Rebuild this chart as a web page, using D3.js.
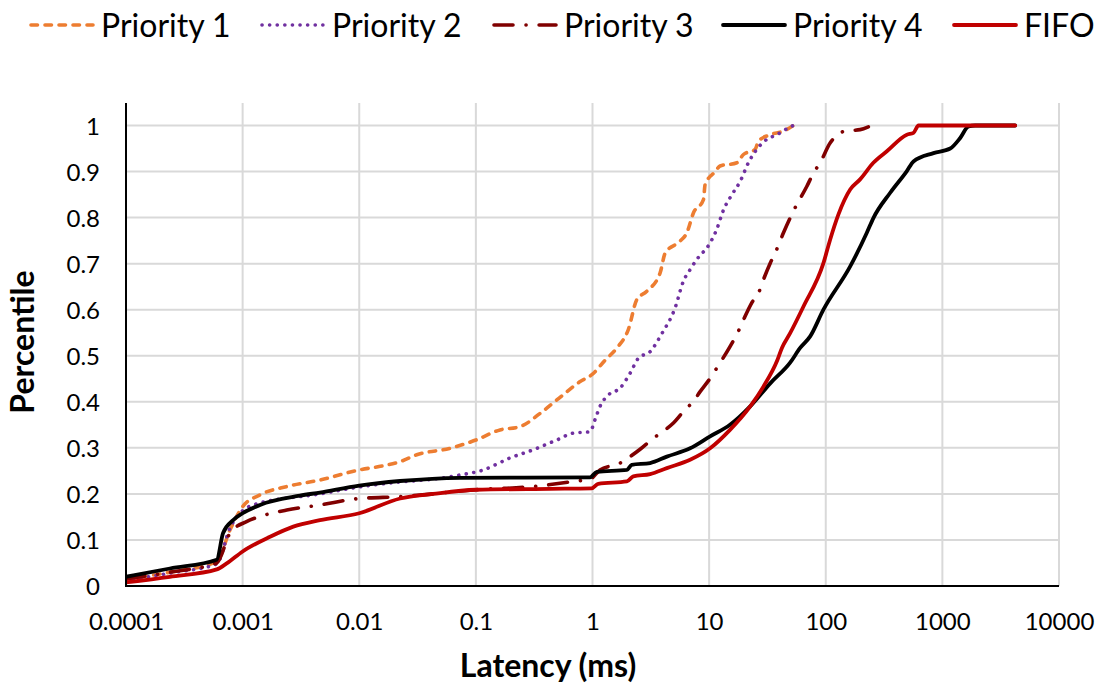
<!DOCTYPE html>
<html>
<head>
<meta charset="utf-8">
<script src="https://cdn.jsdelivr.net/npm/d3@7"></script>
<style>
  html, body { margin: 0; padding: 0; background: #fff; }
  svg { display: block; }
  text { font-family: Lato, "Open Sans", sans-serif; fill: #000; }
</style>
</head>
<body>
<svg id="chart" width="1098" height="686"></svg>
<script>
// ---------------- DATA ----------------
const seriesNames = ["Priority 1", "Priority 2", "Priority 3", "Priority 4", "FIFO"];

const p1Latency = [0.0001, 0.000238, 0.0006, 0.00078, 0.001, 0.00141, 0.00239, 0.0046, 0.01, 0.0161, 0.0224, 0.0311, 0.0601, 0.1, 0.161, 0.239, 0.356, 0.494, 0.784, 1.0, 1.28, 1.62, 2.03, 2.40, 2.92, 3.80, 4.20, 5.64, 6.44, 7.33, 8.94, 9.24, 11.3, 12.4, 17.3, 19.7, 24.8, 26.5, 33.4, 43.4, 52.8];
const p1Pct     = [0.015, 0.03, 0.053, 0.122, 0.172, 0.198, 0.216, 0.23, 0.252, 0.261, 0.27, 0.285, 0.299, 0.317, 0.339, 0.346, 0.375, 0.404, 0.444, 0.46, 0.49, 0.517, 0.557, 0.622, 0.64, 0.68, 0.723, 0.749, 0.767, 0.81, 0.839, 0.872, 0.9, 0.912, 0.919, 0.937, 0.948, 0.966, 0.98, 0.988, 1.0];

const p2Latency = [0.0001, 0.000238, 0.0006, 0.00078, 0.00123, 0.0046, 0.01, 0.0224, 0.043, 0.073, 0.116, 0.196, 0.311, 0.494, 0.685, 0.953, 1.05, 1.16, 1.37, 1.73, 2.10, 2.48, 3.12, 3.93, 5.11, 6.02, 6.87, 7.84, 10.2, 11.6, 13.3, 15.7, 18.5, 21.7, 25.6, 31.3, 38.1, 47.9, 52.8];
const p2Pct     = [0.012, 0.028, 0.048, 0.126, 0.176, 0.2, 0.215, 0.226, 0.232, 0.241, 0.252, 0.278, 0.296, 0.317, 0.332, 0.335, 0.361, 0.39, 0.415, 0.43, 0.462, 0.495, 0.509, 0.548, 0.604, 0.662, 0.687, 0.709, 0.745, 0.774, 0.817, 0.85, 0.879, 0.919, 0.948, 0.97, 0.98, 0.995, 1.0];

const p3Latency = [0.0001, 0.000238, 0.0006, 0.00078, 0.00108, 0.00141, 0.00239, 0.0046, 0.01, 0.0224, 0.1, 0.311, 0.733, 0.953, 1.16, 1.73, 2.10, 2.56, 3.33, 4.20, 4.94, 6.22, 7.33, 8.37, 10.2, 11.6, 15.1, 17.8, 19.7, 23.2, 26.5, 29.2, 33.4, 36.8, 43.4, 52.8, 68.9, 78.5, 89.5, 109, 120, 146.6, 197, 232];
const p3Pct     = [0.015, 0.03, 0.05, 0.115, 0.14, 0.151, 0.165, 0.176, 0.19, 0.194, 0.209, 0.216, 0.228, 0.232, 0.252, 0.267, 0.281, 0.297, 0.321, 0.339, 0.354, 0.383, 0.401, 0.422, 0.451, 0.473, 0.52, 0.553, 0.578, 0.615, 0.636, 0.665, 0.701, 0.723, 0.767, 0.814, 0.868, 0.897, 0.919, 0.962, 0.975, 0.988, 0.991, 0.997];

const p4Latency = [0.0001, 0.000238, 0.0006, 0.00068, 0.00083, 0.001, 0.00141, 0.0031, 0.0046, 0.01, 0.0224, 0.073, 0.953, 1.09, 1.97, 2.17, 3.12, 4.34, 6.87, 10.2, 15.1, 22.5, 33.4, 49.5, 60.3, 73.5, 95.5, 162, 225, 256, 357, 496, 565, 839, 1167, 1422, 1675, 1910, 4207];
const p4Pct     = [0.02, 0.038, 0.057, 0.115, 0.143, 0.158, 0.176, 0.196, 0.203, 0.218, 0.228, 0.235, 0.236, 0.248, 0.252, 0.263, 0.267, 0.281, 0.299, 0.325, 0.35, 0.39, 0.44, 0.485, 0.517, 0.542, 0.6, 0.694, 0.767, 0.799, 0.854, 0.901, 0.922, 0.94, 0.95, 0.973, 0.998, 1.0, 1.0];

const fifoLatency = [0.0001, 0.000238, 0.0006, 0.00073, 0.001, 0.00172, 0.00272, 0.0046, 0.01, 0.0224, 0.043, 0.1, 0.433, 0.98, 1.12, 1.97, 2.24, 3.12, 4.34, 6.87, 10.2, 15.1, 22.5, 29.2, 38.1, 42.1, 49.5, 64.4, 95.5, 109, 128.5, 162, 197, 256, 334, 496, 565, 624, 4207];
const fifoPct     = [0.008, 0.02, 0.036, 0.049, 0.075, 0.107, 0.129, 0.143, 0.158, 0.19, 0.2, 0.209, 0.211, 0.212, 0.222, 0.227, 0.238, 0.243, 0.256, 0.274, 0.299, 0.339, 0.39, 0.433, 0.488, 0.517, 0.549, 0.607, 0.701, 0.752, 0.807, 0.861, 0.883, 0.919, 0.944, 0.98, 0.984, 1.0, 1.0];

const xTickValues = [0.0001, 0.001, 0.01, 0.1, 1, 10, 100, 1000, 10000];
const xTickLabels = ["0.0001", "0.001", "0.01", "0.1", "1", "10", "100", "1000", "10000"];
const yTickValues = [0, 0.1, 0.2, 0.3, 0.4, 0.5, 0.6, 0.7, 0.8, 0.9, 1];
const yTickLabels = ["0", "0.1", "0.2", "0.3", "0.4", "0.5", "0.6", "0.7", "0.8", "0.9", "1"];
const xTitle = "Latency (ms)";
const yTitle = "Percentile";

// ---------------- STYLES ----------------
const styles = [
  { color: "#ED7D31", dash: "6.5,7.5", width: 3.6 },
  { color: "#7030A0", dash: "0.1,7.5", width: 3.6 },
  { color: "#800000", dash: "19,13,0.1,13", width: 3.6 },
  { color: "#000000", dash: null, width: 3.8 },
  { color: "#C00000", dash: null, width: 3.8 }
];
const latencies = [p1Latency, p2Latency, p3Latency, p4Latency, fifoLatency];
const pcts = [p1Pct, p2Pct, p3Pct, p4Pct, fifoPct];

// ---------------- LAYOUT ----------------
const plotL = 126, plotR = 1059, plotT = 103, plotB = 586;
const svg = d3.select("#chart");

const x = d3.scaleLog().domain([0.0001, 10000]).range([plotL, plotR]);
const y = d3.scaleLinear().domain([0, 1]).range([plotB, 125.5]);

// gridlines
const grid = svg.append("g");
grid.selectAll("line.h").data(yTickValues.filter(v => v > 0)).enter().append("line")
  .attr("x1", plotL).attr("x2", plotR)
  .attr("y1", d => y(d)).attr("y2", d => y(d))
  .attr("stroke", "#d9d9d9").attr("stroke-width", 2);
grid.selectAll("line.v").data(xTickValues.filter(v => v > 0.0001)).enter().append("line")
  .attr("x1", d => x(d)).attr("x2", d => x(d))
  .attr("y1", plotT).attr("y2", plotB)
  .attr("stroke", "#d9d9d9").attr("stroke-width", 2);

// axes labels via d3 axes
const xAxis = d3.axisBottom(x).tickValues(xTickValues)
  .tickFormat((d, i) => xTickLabels[i]).tickSize(0).tickPadding(0);
const gx = svg.append("g").attr("transform", `translate(0,${plotB})`).call(xAxis);
gx.select(".domain").remove();
gx.selectAll("text").attr("font-family", "Lato").attr("font-size", 24)
  .attr("fill", "#000").attr("y", 44).attr("dy", null);

const yAxis = d3.axisLeft(y).tickValues(yTickValues)
  .tickFormat((d, i) => yTickLabels[i]).tickSize(0).tickPadding(0);
const gy = svg.append("g").attr("transform", `translate(${plotL},0)`).call(yAxis);
gy.select(".domain").remove();
gy.selectAll("text").attr("font-family", "Lato").attr("font-size", 24)
  .attr("fill", "#000").attr("x", -26).attr("dy", "0.36em");

// series lines
svg.append("clipPath").attr("id", "plotclip")
  .append("rect").attr("x", plotL).attr("y", plotT - 5).attr("width", plotR - plotL + 5).attr("height", plotB - plotT + 10);

const line = d3.line().x(d => x(d[0])).y(d => y(d[1])).curve(d3.curveMonotoneX);
const series = seriesNames.map((name, i) => ({
  name, style: styles[i],
  points: latencies[i].map((l, j) => [l, pcts[i][j]])
}));
const gLines = svg.append("g").attr("clip-path", "url(#plotclip)");
gLines.selectAll("path").data(series).enter().append("path")
  .attr("d", d => line(d.points))
  .attr("fill", "none")
  .attr("stroke", d => d.style.color)
  .attr("stroke-width", d => d.style.width)
  .attr("stroke-dasharray", d => d.style.dash)
  .attr("stroke-linecap", "round")
  .attr("stroke-linejoin", "round");

// axis lines
svg.append("line").attr("x1", plotL).attr("x2", plotL).attr("y1", plotT).attr("y2", plotB + 1)
  .attr("stroke", "#000").attr("stroke-width", 2);
svg.append("line").attr("x1", plotL - 1).attr("x2", plotR).attr("y1", plotB).attr("y2", plotB)
  .attr("stroke", "#000").attr("stroke-width", 2);

// axis titles
svg.append("text").attr("x", 548).attr("y", 677).attr("text-anchor", "middle")
  .attr("font-size", 32).attr("font-weight", "bold").text(xTitle);
svg.append("text").attr("transform", "translate(34,342) rotate(-90)").attr("text-anchor", "middle")
  .attr("font-size", 32).attr("font-weight", "bold").text(yTitle);

// legend
const legendX = [29, 260, 492, 721, 952];
const lg = svg.append("g");
series.forEach((s, i) => {
  const g = lg.append("g").attr("transform", `translate(${legendX[i]},25)`);
  g.append("line").attr("x1", 2).attr("x2", 64).attr("y1", 0).attr("y2", 0)
    .attr("stroke", s.style.color).attr("stroke-width", s.style.width)
    .attr("stroke-dasharray", s.style.dash).attr("stroke-linecap", "round");
  g.append("text").attr("x", 72).attr("y", 11.5).attr("font-size", 32).text(s.name);
});
</script>
</body>
</html>
